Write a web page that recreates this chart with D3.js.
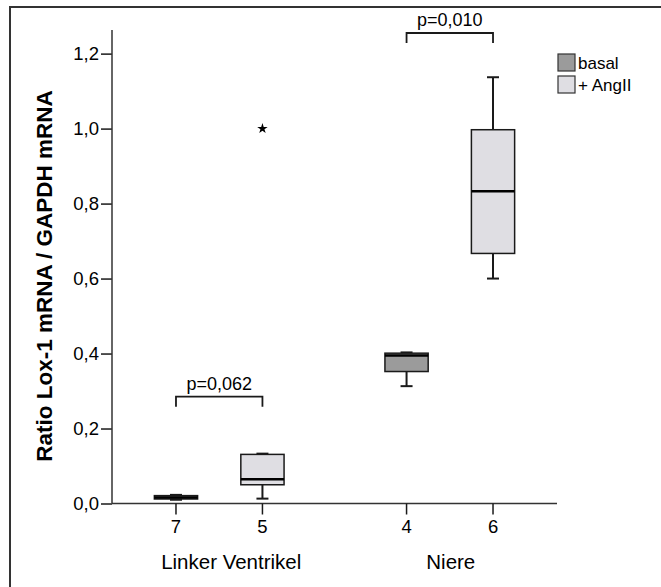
<!DOCTYPE html>
<html><head><meta charset="utf-8">
<script src="https://cdn.jsdelivr.net/npm/d3@7"></script>
<style>body{margin:0;background:#fff}svg{display:block;font-family:Arial,"Liberation Sans",sans-serif}</style>
</head><body><svg id="c" width="661" height="587"></svg>
<script>
const groups = ["Linker Ventrikel", "Niere"];
const series = ["basal", "+ AngII"];
const nLabels = [["7", "5"], ["4", "6"]];
// [min, q1, median, q3, max] per group per series
const lvBasal = [0.010, 0.012, 0.016, 0.021, 0.023];
const lvAngII = [0.013, 0.050, 0.065, 0.131, 0.133];
const niBasal = [0.313, 0.352, 0.395, 0.401, 0.403];
const niAngII = [0.600, 0.667, 0.833, 0.997, 1.137];
const outliers = [{group: "Linker Ventrikel", series: "+ AngII", value: 1.0}];
const yTicks = [0, 0.2, 0.4, 0.6, 0.8, 1.0, 1.2];
const pValues = [{group: "Linker Ventrikel", label: "p=0,062", at: 0.285}, {group: "Niere", label: "p=0,010", at: 1.255}];
const colors = {"basal": "#9b9b9b", "+ AngII": "#dfdee3"};

const stats = [
  {group: groups[0], series: series[0], s: lvBasal, n: nLabels[0][0]},
  {group: groups[0], series: series[1], s: lvAngII, n: nLabels[0][1]},
  {group: groups[1], series: series[0], s: niBasal, n: nLabels[1][0]},
  {group: groups[1], series: series[1], s: niAngII, n: nLabels[1][1]}
];

const svg = d3.select("#c");
const x0 = d3.scaleBand().domain(groups).range([112, 557]).paddingInner(0.25).paddingOuter(0.09);
const x1 = d3.scaleBand().domain(series).range([0, x0.bandwidth()]).paddingInner(0.5).paddingOuter(0.25);
const y = d3.scaleLinear().domain([0, 1.263]).range([503.5, 30]);
const cx = d => x0(d.group) + x1(d.series) + x1.bandwidth() / 2;
const ink = "#1a1a1a";

// frame
svg.append("path").attr("d", "M10,587V7H661").attr("fill", "none").attr("stroke", "#333").attr("stroke-width", 2);

// y axis
const yAxis = svg.append("g").attr("transform", "translate(112,0)")
  .call(d3.axisLeft(y).tickValues(yTicks).tickSize(11).tickPadding(2).tickFormat(d => d3.format(".1f")(d).replace(".", ",")));
yAxis.select(".domain").remove();
yAxis.append("line").attr("y1", y(1.263)).attr("y2", y(0)).attr("stroke", "#333").attr("stroke-width", 1.5);
yAxis.selectAll(".tick line").attr("stroke", ink).attr("stroke-width", 1.5);
yAxis.selectAll(".tick text").attr("font-size", 18.5).attr("fill", "#000").attr("font-family", "Arial,'Liberation Sans',sans-serif");

// x axis line and ticks
svg.append("line").attr("x1", 112).attr("x2", 557).attr("y1", y(0)).attr("y2", y(0)).attr("stroke", "#333").attr("stroke-width", 1.5);
const xt = svg.append("g").selectAll("g").data(stats).join("g").attr("transform", d => `translate(${cx(d)},${y(0)})`);
xt.append("line").attr("y1", 0).attr("y2", 11).attr("stroke", ink).attr("stroke-width", 1.5);
xt.append("text").attr("y", 29).attr("text-anchor", "middle").attr("font-size", 18.5).text(d => d.n);

svg.append("g").selectAll("text").data(groups).join("text")
  .attr("x", (d, i) => x0(d) + x0.bandwidth() / 2 + (i === 0 ? 12 : 1)).attr("y", 569).attr("text-anchor", "middle").attr("font-size", 20.5).text(d => d);

// y title
svg.append("text").attr("transform", `translate(52,276) rotate(-90)`).attr("text-anchor", "middle")
  .attr("font-size", 22.5).attr("font-weight", "bold").text("Ratio Lox-1 mRNA / GAPDH mRNA");

// boxes
const bw = x1.bandwidth();
const box = svg.append("g").selectAll("g").data(stats).join("g");
box.append("line").attr("x1", cx).attr("x2", cx).attr("y1", d => y(d.s[0])).attr("y2", d => y(d.s[1])).attr("stroke", ink).attr("stroke-width", 2);
box.append("line").attr("x1", cx).attr("x2", cx).attr("y1", d => y(d.s[3])).attr("y2", d => y(d.s[4])).attr("stroke", ink).attr("stroke-width", 2);
box.append("line").attr("x1", d => cx(d) - 6).attr("x2", d => cx(d) + 6).attr("y1", d => y(d.s[0])).attr("y2", d => y(d.s[0])).attr("stroke", ink).attr("stroke-width", 2);
box.append("line").attr("x1", d => cx(d) - 6).attr("x2", d => cx(d) + 6).attr("y1", d => y(d.s[4])).attr("y2", d => y(d.s[4])).attr("stroke", ink).attr("stroke-width", 2);
box.append("rect").attr("x", d => cx(d) - bw / 2).attr("width", bw)
  .attr("y", d => y(d.s[3])).attr("height", d => y(d.s[1]) - y(d.s[3]))
  .attr("fill", d => colors[d.series]).attr("stroke", ink).attr("stroke-width", 1.5);
box.append("line").attr("x1", d => cx(d) - bw / 2).attr("x2", d => cx(d) + bw / 2).attr("y1", d => y(d.s[2])).attr("y2", d => y(d.s[2])).attr("stroke", "#000").attr("stroke-width", 2.5);

// outliers
svg.append("g").selectAll("path").data(outliers).join("path")
  .attr("transform", d => `translate(${x0(d.group) + x1(d.series) + bw / 2},${y(d.value)})`)
  .attr("d", d3.symbol(d3.symbolStar, 34)).attr("fill", "#000");

// p-value brackets
const pg = svg.append("g").selectAll("g").data(pValues).join("g");
pg.append("path").attr("d", d => {
  const a = x0(d.group) + x1(series[0]) + bw / 2, b = x0(d.group) + x1(series[1]) + bw / 2, yy = y(d.at);
  return `M${a},${yy + 10}V${yy}H${b}V${yy + 10}`;
}).attr("fill", "none").attr("stroke", ink).attr("stroke-width", 1.8);
pg.append("text").attr("x", d => x0(d.group) + x0.bandwidth() / 2).attr("y", d => y(d.at) - 7)
  .attr("text-anchor", "middle").attr("font-size", 18).text(d => d.label);

// legend
const lg = svg.append("g").selectAll("g").data(series).join("g").attr("transform", (d, i) => `translate(558,${54 + i * 22})`);
lg.append("rect").attr("width", 17).attr("height", 17).attr("fill", d => colors[d]).attr("stroke", "#333").attr("stroke-width", 1.2);
lg.append("text").attr("x", 20).attr("y", 15).attr("font-size", 17).text(d => d);
</script></body></html>
